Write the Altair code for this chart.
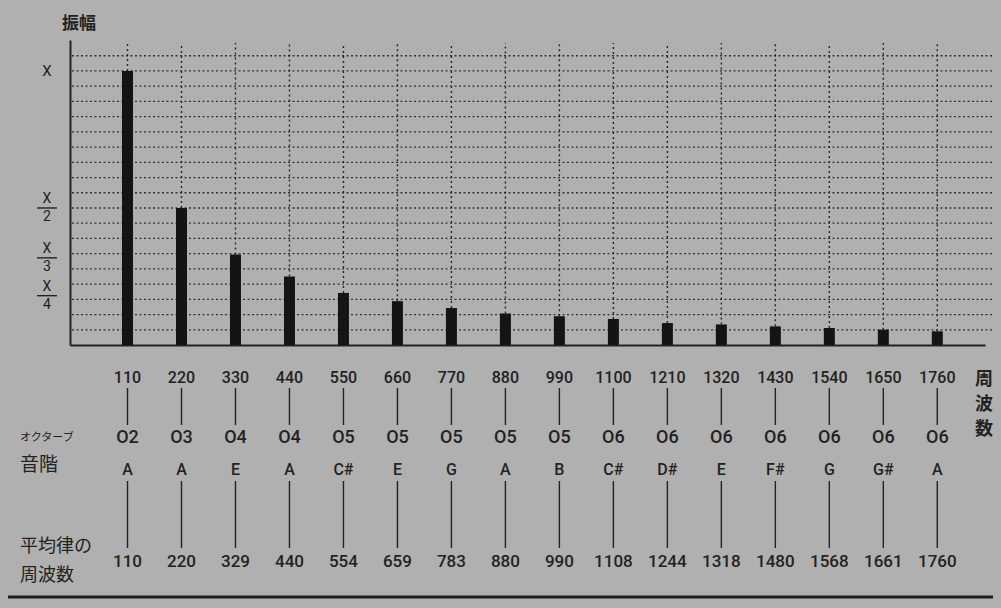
import altair as alt
import pandas as pd

# ---- data ----
harmonic_freq = [110, 220, 330, 440, 550, 660, 770, 880, 990, 1100, 1210, 1320, 1430, 1540, 1650, 1760]
amplitude = [1.0, 0.5, 0.33, 0.25, 0.19, 0.16, 0.135, 0.115, 0.105, 0.095, 0.08, 0.075, 0.068, 0.062, 0.056, 0.05]
octave = ["O2", "O3", "O4", "O4", "O5", "O5", "O5", "O5", "O5", "O6", "O6", "O6", "O6", "O6", "O6", "O6"]
note = ["A", "A", "E", "A", "C#", "E", "G", "A", "B", "C#", "D#", "E", "F#", "G", "G#", "A"]
equal_temp_freq = [110, 220, 329, 440, 554, 659, 783, 880, 990, 1108, 1244, 1318, 1480, 1568, 1661, 1760]

amp_label_num = ["X", "X", "X", "X"]
amp_label_den = ["", "2", "3", "4"]
amp_label_pos = [1.0, 0.5, 0.318, 0.18]
grid_values = [k / 18 for k in range(1, 20)]

df = pd.DataFrame({
    "freq": harmonic_freq, "amp": amplitude, "octave": octave,
    "note": note, "et": equal_temp_freq,
})
df["freq_label"] = df["freq"].astype(str)
df["et_label"] = df["et"].astype(str)
lab = pd.DataFrame({"num": amp_label_num, "den": amp_label_den, "pos": amp_label_pos})
grid_df = pd.DataFrame({"g": grid_values})

BG = "#b0b0b0"
INK = "#222222"
NUM_FONT = "Roboto"
JP_FONT = "Noto Sans CJK JP"

W, H = 915, 305
xs = alt.Scale(domain=[3, 1847], nice=False, zero=False)
ys = alt.Scale(domain=[0, 1.113], nice=False)

base = alt.Chart(df)

hgrid = alt.Chart(grid_df).mark_rule(strokeDash=[2, 2.5], color="#262626",
                                     strokeWidth=1.3, opacity=0.9).encode(
    y=alt.Y("g:Q", scale=ys),
    x=alt.value(2), x2=alt.value(923),
)

bars = base.mark_bar(width=11, color="#141414", orient="vertical").encode(
    x=alt.X("freq:Q", scale=xs,
            axis=alt.Axis(labels=False, ticks=False, grid=False, title=None,
                          domainColor=INK, domainWidth=2)),
    y=alt.Y("amp:Q", scale=ys,
            axis=alt.Axis(labels=False, ticks=False, title=None, grid=False,
                          domainColor=INK, domainWidth=2)),
    y2=alt.datum(0),
)

vgrid = base.mark_rule(strokeDash=[2, 3], color="#262626", strokeWidth=1.4).encode(
    x=alt.X("freq:Q", scale=xs),
    y=alt.Y("amp:Q", scale=ys),
    y2=alt.value(3),
)

# y-axis labels (X, X/2, X/3, X/4)
lab_base = alt.Chart(lab)
single_text = lab_base.transform_filter("datum.den == ''").mark_text(
    font=NUM_FONT, fontSize=15, color=INK).encode(
    x=alt.value(-23), y=alt.Y("pos:Q", scale=ys), text="num:N")
num_text = lab_base.transform_filter("datum.den != ''").mark_text(
    font=NUM_FONT, fontSize=14, color=INK, dy=-9).encode(
    x=alt.value(-23), y=alt.Y("pos:Q", scale=ys), text="num:N")
den_text = lab_base.transform_filter("datum.den != ''").mark_text(
    font=NUM_FONT, fontSize=14, color=INK, dy=9).encode(
    x=alt.value(-23), y=alt.Y("pos:Q", scale=ys), text="den:N")
frac_bar = lab_base.transform_filter("datum.den != ''").mark_rule(
    color=INK, strokeWidth=1.4).encode(
    x=alt.value(-33), x2=alt.value(-13), y=alt.Y("pos:Q", scale=ys))

# table below the axis
def row_text(field, ypix, size):
    return base.mark_text(font=NUM_FONT, fontSize=size, fontWeight=500, color=INK,
                          baseline="middle").encode(
        x=alt.X("freq:Q", scale=xs),
        y=alt.value(ypix),
        text=alt.Text(field),
    )

freq_row = row_text("freq_label:N", 338, 16)
oct_row = row_text("octave:N", 398, 18)
note_row = row_text("note:N", 430, 16)
et_row = row_text("et_label:N", 522, 17)

conn1 = base.mark_rule(color=INK, strokeWidth=1.4).encode(
    x=alt.X("freq:Q", scale=xs), y=alt.value(348), y2=alt.value(385))
conn2 = base.mark_rule(color=INK, strokeWidth=1.4).encode(
    x=alt.X("freq:Q", scale=xs), y=alt.value(441), y2=alt.value(508))

def label(txt, xpix, ypix, size, weight="normal", align="left", font=JP_FONT, line_height=None):
    kw = dict(font=font, fontSize=size, fontWeight=weight, color=INK, align=align,
              baseline="middle")
    if line_height:
        kw["lineBreak"] = "\n"
        kw["lineHeight"] = line_height
    return alt.Chart(pd.DataFrame({"t": [txt]})).mark_text(**kw).encode(
        x=alt.value(xpix), y=alt.value(ypix), text="t:N")

title_amp = label("振幅", -8, -16, 17, weight="bold")
lab_oct = label("オクターブ", -50, 398, 11)
lab_note = label("音階", -50, 425, 19)
lab_et1 = label("平均律の", -50, 507, 18)
lab_et2 = label("周波数", -50, 536, 18)
lab_freq = label("周\n波\n数", 914, 340, 18, weight="bold", align="center", line_height=25)

bottom_line = alt.Chart(pd.DataFrame({"t": [0]})).mark_rule(color="#1e1e1e", strokeWidth=3).encode(
    x=alt.value(-62), x2=alt.value(923), y=alt.value(557))

chart = alt.layer(
    hgrid, vgrid, bars, single_text, num_text, den_text, frac_bar,
    conn1, conn2, freq_row, oct_row, note_row, et_row,
    title_amp, lab_oct, lab_note, lab_et1, lab_et2, lab_freq, bottom_line,
).properties(
    width=W, height=H,
    autosize=alt.AutoSizeParams(type="none"),
    padding={"left": 62, "top": 32, "right": 8, "bottom": 255},
    background=BG,
).configure_view(stroke=None)

chart.save("out.html", embed_options={"renderer": "svg", "actions": False,
                                      "defaultStyle": "body{background:#b0b0b0;}"})
